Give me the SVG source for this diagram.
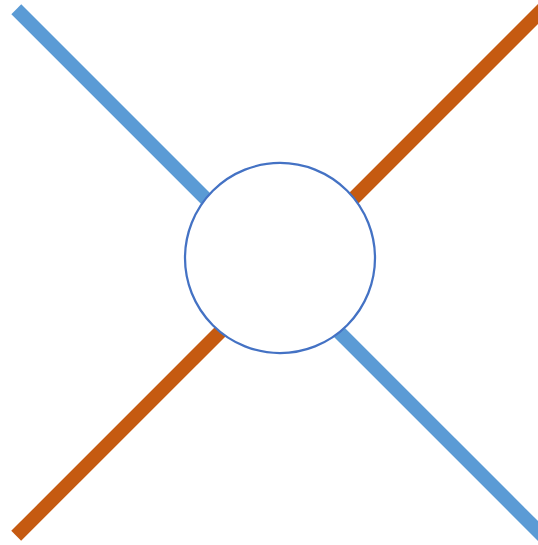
<svg xmlns="http://www.w3.org/2000/svg" width="538" height="545" viewBox="0 0 538 545">
<style>
.ln{stroke-width:14;stroke-linecap:butt;fill:none}
.blue{stroke:#5B9BD5}
.orange{stroke:#C55A11}
.node{fill:#FFFFFF;stroke:#4472C4;stroke-width:2.25}
</style>
<rect width="538" height="545" fill="#FFFFFF"/>
<g id="connectors">
<line class="ln blue" x1="16.3" y1="9.3" x2="600" y2="593"/>
<line class="ln orange" x1="16.2" y1="535.8" x2="600" y2="-48"/>
</g>
<g id="node-circle">
<circle class="node" cx="280" cy="258" r="95"/>
</g>
</svg>
